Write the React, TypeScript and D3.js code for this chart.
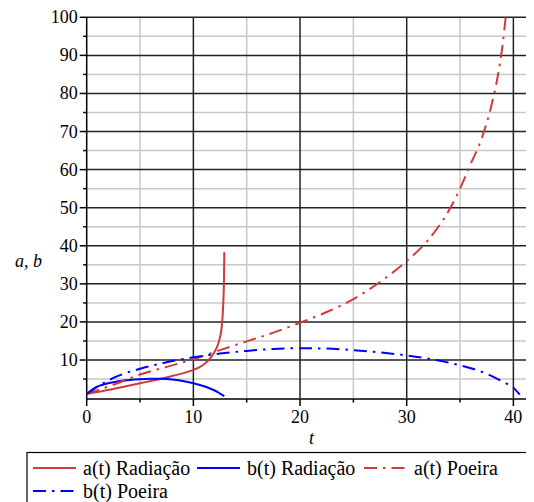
import React, { useEffect, useRef } from "react";
import * as d3 from "d3";

// a(t), b(t) for the radiation and dust cases
const tRadA = [0, 1, 2, 3, 4, 5, 6, 7, 8, 9, 10, 10.5, 11, 11.5, 12, 12.3, 12.5, 12.65, 12.75, 12.82, 12.87, 12.9];
const aRad = [1.1, 1.6, 2.1, 2.7, 3.3, 3.9, 4.5, 5.1, 5.8, 6.5, 7.4, 8.0, 8.9, 10.2, 12.2, 14.0, 16.0, 18.5, 22, 26, 31, 38.3];

const tRadB = [0, 0.5, 1, 1.5, 2, 3, 4, 5, 6, 7, 8, 9, 10, 11, 11.5, 12, 12.5, 12.9];
const bRad = [1.1, 2.2, 3.0, 3.5, 3.9, 4.4, 4.75, 4.95, 5.05, 5.05, 4.9, 4.5, 3.9, 3.1, 2.6, 2.0, 1.2, 0.5];

const tDustA = [0, 2.5, 5, 7.5, 10, 12.5, 15, 17.5, 20, 22.5, 25, 27.5, 30, 32, 34, 35, 36, 37, 38, 38.5, 39, 39.3];
const aDust = [1.1, 3.5, 6.2, 8.2, 10.2, 12.6, 14.9, 17.2, 19.8, 22.6, 26.0, 30.5, 36.0, 41.5, 49.5, 55.0, 61.5, 68, 77.5, 84, 93, 100.6];

const tDustB = [0, 1, 2, 3, 4, 5, 7.5, 10, 12.5, 15, 17.5, 20, 22.5, 25, 27.5, 30, 32.5, 35, 37.5, 39, 40, 40.6];
const bDust = [1.1, 3.0, 4.6, 5.9, 6.9, 7.7, 9.4, 10.7, 11.7, 12.4, 12.9, 13.1, 13.0, 12.6, 12.0, 11.2, 10.1, 8.6, 6.4, 4.3, 2.7, 0.9];

const xTicks = [0, 10, 20, 30, 40];
const yTicks = [10, 20, 30, 40, 50, 60, 70, 80, 90, 100];

const legendLabels = ["a(t) Radiação", "b(t) Radiação", "a(t) Poeira", "b(t) Poeira"];

const RED = "#d03a3a";
const BLUE = "#0000ff";
const DASHDOT = "13,6,2.5,6";
const FONT = "'Liberation Serif', 'Times New Roman', Tinos, serif";

const W = 534;
const H = 502;

export default function App() {
  const ref = useRef<SVGSVGElement | null>(null);

  useEffect(() => {
    const svg = d3.select(ref.current);
    svg.selectAll("*").remove();

    const x = d3.scaleLinear().domain([0, 41.84]).range([86.7, 533]);
    const y = d3.scaleLinear().domain([0, 100]).range([398.1, 17.3]);
    const [x0, x1] = x.range();
    const yBottom = y(0);
    const yTop = y(100);
    const minorX = d3.range(5, 42, 10);
    const minorY = d3.range(5, 100, 10);

    svg.append("rect").attr("width", W).attr("height", H).attr("fill", "#fff");

    // grid
    const grid = (vals: number[], color: string, vertical: boolean) => {
      const g = svg.append("g").attr("stroke", color).attr("stroke-width", 1.5);
      g.selectAll("line")
        .data(vals)
        .join("line")
        .attr("x1", (d) => (vertical ? x(d) : x0))
        .attr("x2", (d) => (vertical ? x(d) : x1 + 2))
        .attr("y1", (d) => (vertical ? yTop : y(d)))
        .attr("y2", (d) => (vertical ? yBottom : y(d)));
    };
    grid(minorX, "#c8c8c8", true);
    grid(minorY, "#c8c8c8", false);
    grid(xTicks.slice(1), "#222", true);
    grid(yTicks, "#222", false);

    // axes
    const ax = svg.append("g").attr("stroke", "#000").attr("stroke-width", 1.5);
    ax.append("line").attr("x1", x0).attr("x2", x0).attr("y1", yTop).attr("y2", yBottom + 1);
    ax.append("line").attr("x1", x0).attr("x2", x1 + 2).attr("y1", yBottom + 1).attr("y2", yBottom + 1);
    const tickY = (vals: number[], len: number) =>
      ax.append("g").selectAll("line").data(vals).join("line")
        .attr("x1", x0 - len).attr("x2", x0).attr("y1", (d) => y(d)).attr("y2", (d) => y(d));
    const tickX = (vals: number[], len: number) =>
      ax.append("g").selectAll("line").data(vals).join("line")
        .attr("x1", (d) => x(d)).attr("x2", (d) => x(d)).attr("y1", yBottom + 1).attr("y2", yBottom + 1 + len);
    tickY(yTicks, 7);
    tickY(minorY, 3.5);
    tickX(xTicks, 7);
    tickX(minorX, 3.5);

    const text = (sel: d3.Selection<any, any, any, any>, size: number, italic = false) =>
      sel
        .attr("font-family", FONT)
        .style("font-family", FONT)
        .attr("font-size", size)
        .style("font-size", size + "px")
        .style("font-style", italic ? "italic" : "normal")
        .attr("fill", "#000");

    text(
      svg.append("g").selectAll("text").data(yTicks).join("text")
        .attr("x", x0 - 9).attr("y", (d) => y(d) + 6).attr("text-anchor", "end").text((d) => String(d)),
      18
    );
    text(
      svg.append("g").selectAll("text").data(xTicks).join("text")
        .attr("x", (d) => x(d)).attr("y", yBottom + 25).attr("text-anchor", "middle").text((d) => String(d)),
      18
    );

    text(svg.append("text").attr("x", 15).attr("y", 267).text("a, b"), 18, true);
    text(svg.append("text").attr("x", 309).attr("y", 444).text("t"), 18, true);

    // curves
    const line = d3
      .line<[number, number]>()
      .x((d) => x(d[0]))
      .y((d) => y(d[1]))
      .curve(d3.curveMonotoneX);
    const series = [
      { t: tRadA, v: aRad, color: RED, dash: null as string | null },
      { t: tRadB, v: bRad, color: BLUE, dash: null as string | null },
      { t: tDustA, v: aDust, color: RED, dash: DASHDOT },
      { t: tDustB, v: bDust, color: BLUE, dash: DASHDOT },
    ];
    const cg = svg.append("g").attr("fill", "none").attr("stroke-width", 2);
    series.forEach((s) => {
      cg.append("path")
        .attr("d", line(s.t.map((t, k) => [t, s.v[k]] as [number, number])))
        .attr("stroke", s.color)
        .attr("stroke-dasharray", s.dash);
    });

    // legend
    svg.append("rect").attr("x", 27).attr("y", 452.5).attr("width", 505).attr("height", 60)
      .attr("fill", "none").attr("stroke", "#000").attr("stroke-width", 1.2);
    const items = [
      { color: RED, dash: null as string | null, lx: 33, row: 0 },
      { color: BLUE, dash: null as string | null, lx: 197, row: 0 },
      { color: RED, dash: DASHDOT, lx: 364, row: 0 },
      { color: BLUE, dash: DASHDOT, lx: 33, row: 1 },
    ];
    items.forEach((it, i) => {
      const cy = 468 + it.row * 23;
      svg.append("line").attr("x1", it.lx).attr("x2", it.lx + 43).attr("y1", cy).attr("y2", cy)
        .attr("stroke", it.color).attr("stroke-width", 2).attr("stroke-dasharray", it.dash);
      text(svg.append("text").attr("x", it.lx + 50).attr("y", cy + 6.5).text(legendLabels[i]), 20);
    });
  }, []);

  return <svg ref={ref} width={W} height={H} style={{ display: "block", margin: "-8px 0 0 -8px" }} />;
}
